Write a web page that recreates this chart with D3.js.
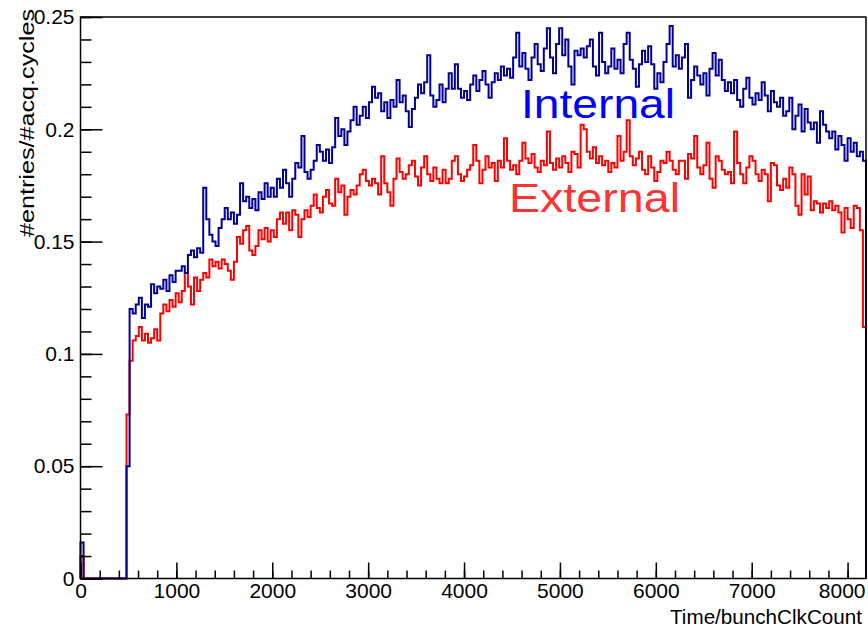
<!DOCTYPE html>
<html>
<head>
<meta charset="utf-8">
<script src="https://cdn.jsdelivr.net/npm/d3@7"></script>
<style>
  html, body { margin: 0; padding: 0; background: #ffffff; }
  svg { display: block; }
  text { font-family: "Liberation Sans", Arial, Helvetica, sans-serif; }
</style>
</head>
<body>
<svg id="chart" width="868" height="630"></svg>
<script>
// Histogram binning: 256 bins of 32 clock counts over 0..8192
const binWidth = 32;
const xMax = 8192;

// #entries/#acq.cycles per bin, internal trigger
const internalValues = [
  0.016,
  0, 0, 0, 0, 0, 0, 0, 0, 0, 0, 0, 0, 0, 0,
  0.050,
  0.120,0.118,0.122,0.125,0.116,0.122,0.121,0.131,0.127,0.130,0.129,0.133,0.128,0.135,0.132,0.137,
  0.137,0.139,0.136,0.144,0.146,0.143,0.147,0.145,0.174,0.160,0.153,0.150,0.148,0.156,0.160,0.165,0.160,0.163,0.158,0.162,0.176,0.168,0.170,0.165,0.169,0.164,0.172,0.169,0.176,0.170,0.174,0.170,0.178,0.174,0.182,0.176,
  0.170,0.178,0.185,0.183,0.197,0.181,0.178,0.182,0.186,0.193,0.190,0.186,0.191,0.185,0.192,0.205,0.197,0.200,0.193,0.199,0.204,0.210,0.202,0.206,0.210,0.205,0.212,0.219,0.214,0.216,0.208,0.212,
  0.205,0.213,0.210,0.222,0.212,0.215,0.208,0.201,0.209,0.214,0.220,0.216,0.221,0.233,0.215,0.210,0.213,0.220,0.212,0.218,0.225,0.218,0.229,0.218,0.214,0.217,0.213,0.220,0.224,0.217,0.222,0.226,
  0.220,0.214,0.221,0.225,0.222,0.228,0.224,0.227,0.223,0.232,0.243,0.228,0.234,0.227,0.222,0.232,0.238,0.229,0.226,0.236,0.245,0.232,0.225,0.238,0.245,0.233,0.240,0.228,0.220,0.235,0.233,0.236,
  0.232,0.237,0.240,0.228,0.224,0.243,0.230,0.225,0.228,0.236,0.227,0.231,0.225,0.238,0.243,0.231,0.227,0.219,0.229,0.235,0.230,0.237,0.229,0.218,0.225,0.221,0.230,0.238,0.246,0.228,0.233,0.227,
  0.232,0.238,0.214,0.222,0.228,0.224,0.220,0.225,0.215,0.227,0.234,0.224,0.231,0.222,0.217,0.221,0.216,0.222,0.213,0.210,0.218,0.223,0.214,0.211,0.216,0.213,0.221,0.215,0.208,0.217,0.212,0.210,0.214,0.206,
  0.208,0.214,0.200,0.206,0.211,0.199,0.209,0.203,0.200,0.203,0.194,0.208,0.202,0.199,0.196,0.199,0.191,0.197,0.193,0.186,0.196,0.190,0.194,0.188,0.190,0.186
];

// #entries/#acq.cycles per bin, external trigger
const externalValues = [
  0.010,
  0, 0, 0, 0, 0, 0, 0, 0, 0, 0, 0, 0, 0, 0,
  0.073,
  0.097,0.106,0.108,0.112,0.106,0.109,0.105,0.107,0.111,0.106,0.118,0.122,0.119,0.124,0.121,0.127,
  0.123,0.128,0.136,0.130,0.122,0.134,0.128,0.133,0.136,0.134,0.142,0.139,0.141,0.138,0.142,0.140,0.137,0.133,0.141,0.152,0.149,0.155,0.157,0.146,0.144,0.148,0.155,0.151,0.156,0.150,0.155,0.152,0.160,0.163,0.158,0.163,
  0.155,0.164,0.162,0.152,0.160,0.164,0.161,0.166,0.171,0.165,0.163,0.170,0.173,0.167,0.166,0.178,0.172,0.175,0.162,0.170,0.173,0.171,0.175,0.180,0.182,0.177,0.175,0.178,0.176,0.171,0.188,0.176,
  0.172,0.166,0.178,0.187,0.181,0.178,0.180,0.184,0.186,0.179,0.175,0.183,0.188,0.180,0.177,0.183,0.178,0.176,0.182,0.176,0.178,0.186,0.188,0.180,0.177,0.179,0.182,0.184,0.193,0.186,0.176,0.182,
  0.188,0.183,0.185,0.177,0.186,0.183,0.196,0.186,0.182,0.184,0.180,0.186,0.194,0.187,0.185,0.189,0.183,0.181,0.186,0.184,0.199,0.185,0.182,0.187,0.183,0.188,0.185,0.181,0.190,0.189,0.183,0.202,
  0.200,0.190,0.187,0.192,0.185,0.188,0.184,0.186,0.181,0.185,0.183,0.197,0.186,0.190,0.204,0.188,0.184,0.187,0.190,0.182,0.180,0.188,0.183,0.177,0.181,0.186,0.185,0.190,0.186,0.182,0.180,0.186,
  0.186,0.178,0.189,0.187,0.197,0.183,0.180,0.184,0.194,0.178,0.174,0.188,0.186,0.182,0.180,0.181,0.176,0.199,0.185,0.180,0.176,0.183,0.188,0.186,0.180,0.177,0.182,0.180,0.168,0.185,0.184,0.175,0.173,0.178,
  0.174,0.183,0.180,0.166,0.162,0.180,0.171,0.179,0.164,0.168,0.167,0.163,0.167,0.165,0.168,0.164,0.166,0.163,0.154,0.165,0.160,0.156,0.166,0.165,0.155,0.112
];

// Axis ticks
const xMajorTicks = [0, 1000, 2000, 3000, 4000, 5000, 6000, 7000, 8000];
const yMajorTicks = [0, 0.05, 0.1, 0.15, 0.2, 0.25];
const yTickLabels = ["0", "0.05", "0.1", "0.15", "0.2", "0.25"];

const xTitle = "Time/bunchClkCount";
const yTitle = "#entries/#acq.cycles";

const seriesLabels = [
  { name: "Internal", color: "#0000ff" },
  { name: "External", color: "#ff3333" }
];

// Frame geometry
const frame = { left: 80.5, right: 866, top: 17, bottom: 578.5 };

const svg = d3.select("#chart");

const x = d3.scaleLinear().domain([0, xMax]).range([frame.left, frame.right]);
const y = d3.scaleLinear().domain([0, 0.25]).range([frame.bottom, frame.top]);

// ROOT-style outline: rise from baseline, step through bins, return to baseline
function histPoints(values) {
  const pts = [[0, 0]];
  values.forEach((v, i) => {
    pts.push([i * binWidth, v]);
    pts.push([(i + 1) * binWidth, v]);
  });
  pts.push([values.length * binWidth, 0]);
  return pts;
}

const line = d3.line().x(d => x(d[0])).y(d => y(d[1]));

svg.append("path")
  .attr("d", line(histPoints(externalValues)))
  .attr("fill", "none")
  .attr("stroke", "#ff0000")
  .attr("stroke-width", 2)
  .attr("stroke-linejoin", "miter");

svg.append("path")
  .attr("d", line(histPoints(internalValues)))
  .attr("fill", "none")
  .attr("stroke", "#000099")
  .attr("stroke-width", 2)
  .attr("stroke-linejoin", "miter");

// Frame
svg.append("rect")
  .attr("x", frame.left).attr("y", frame.top)
  .attr("width", frame.right - frame.left)
  .attr("height", frame.bottom - frame.top)
  .attr("fill", "none")
  .attr("stroke", "#000")
  .attr("stroke-width", 1.5);

// Y axis: major and minor ticks drawn inside the frame
const yMinor = d3.range(0, 0.2501, 0.01);
svg.append("g")
  .attr("transform", `translate(${frame.left},0)`)
  .call(d3.axisLeft(y).tickValues(yMinor).tickSize(-11).tickFormat(""))
  .call(g => g.select(".domain").remove())
  .call(g => g.selectAll("line").attr("stroke-width", 1.5));

svg.append("g")
  .attr("transform", `translate(${frame.left},0)`)
  .call(d3.axisLeft(y).tickValues(yMajorTicks).tickSize(-22).tickPadding(6)
    .tickFormat((d, i) => yTickLabels[i]))
  .call(g => g.select(".domain").remove())
  .call(g => g.selectAll("line").attr("stroke-width", 1.5))
  .call(g => g.selectAll("text").attr("font-size", 21).attr("fill", "#000")
    .attr("font-family", "Liberation Sans, Arial, sans-serif"));

// X axis
const xMinor = d3.range(0, xMax, 200);
svg.append("g")
  .attr("transform", `translate(0,${frame.bottom})`)
  .call(d3.axisBottom(x).tickValues(xMinor).tickSize(-8).tickFormat(""))
  .call(g => g.select(".domain").remove())
  .call(g => g.selectAll("line").attr("stroke-width", 1.5));

svg.append("g")
  .attr("transform", `translate(0,${frame.bottom})`)
  .call(d3.axisBottom(x).tickValues(xMajorTicks).tickSize(-16).tickPadding(5)
    .tickFormat(d3.format("d")))
  .call(g => g.select(".domain").remove())
  .call(g => g.selectAll("line").attr("stroke-width", 1.5))
  .call(g => g.selectAll("text").attr("font-size", 21).attr("fill", "#000")
    .attr("font-family", "Liberation Sans, Arial, sans-serif"))
  .call(g => g.selectAll(".tick").filter(d => d === 8000).select("text")
    .attr("text-anchor", "end").attr("x", 865 - x(8000)));

// Axis titles
svg.append("text")
  .attr("x", 862).attr("y", 624)
  .attr("text-anchor", "end")
  .attr("font-size", 20.5)
  .attr("textLength", 192)
  .attr("lengthAdjust", "spacingAndGlyphs")
  .text(xTitle);

svg.append("text")
  .attr("transform", "translate(34,9) rotate(-90)")
  .attr("text-anchor", "end")
  .attr("font-size", 21)
  .attr("textLength", 228)
  .attr("lengthAdjust", "spacingAndGlyphs")
  .text(yTitle);

// Series labels
svg.append("text")
  .attr("x", 521).attr("y", 118)
  .attr("font-size", 40)
  .attr("textLength", 154)
  .attr("lengthAdjust", "spacingAndGlyphs")
  .attr("fill", seriesLabels[0].color)
  .text(seriesLabels[0].name);

svg.append("text")
  .attr("x", 509).attr("y", 212)
  .attr("font-size", 41)
  .attr("textLength", 171)
  .attr("lengthAdjust", "spacingAndGlyphs")
  .attr("fill", seriesLabels[1].color)
  .text(seriesLabels[1].name);
</script>
</body>
</html>
